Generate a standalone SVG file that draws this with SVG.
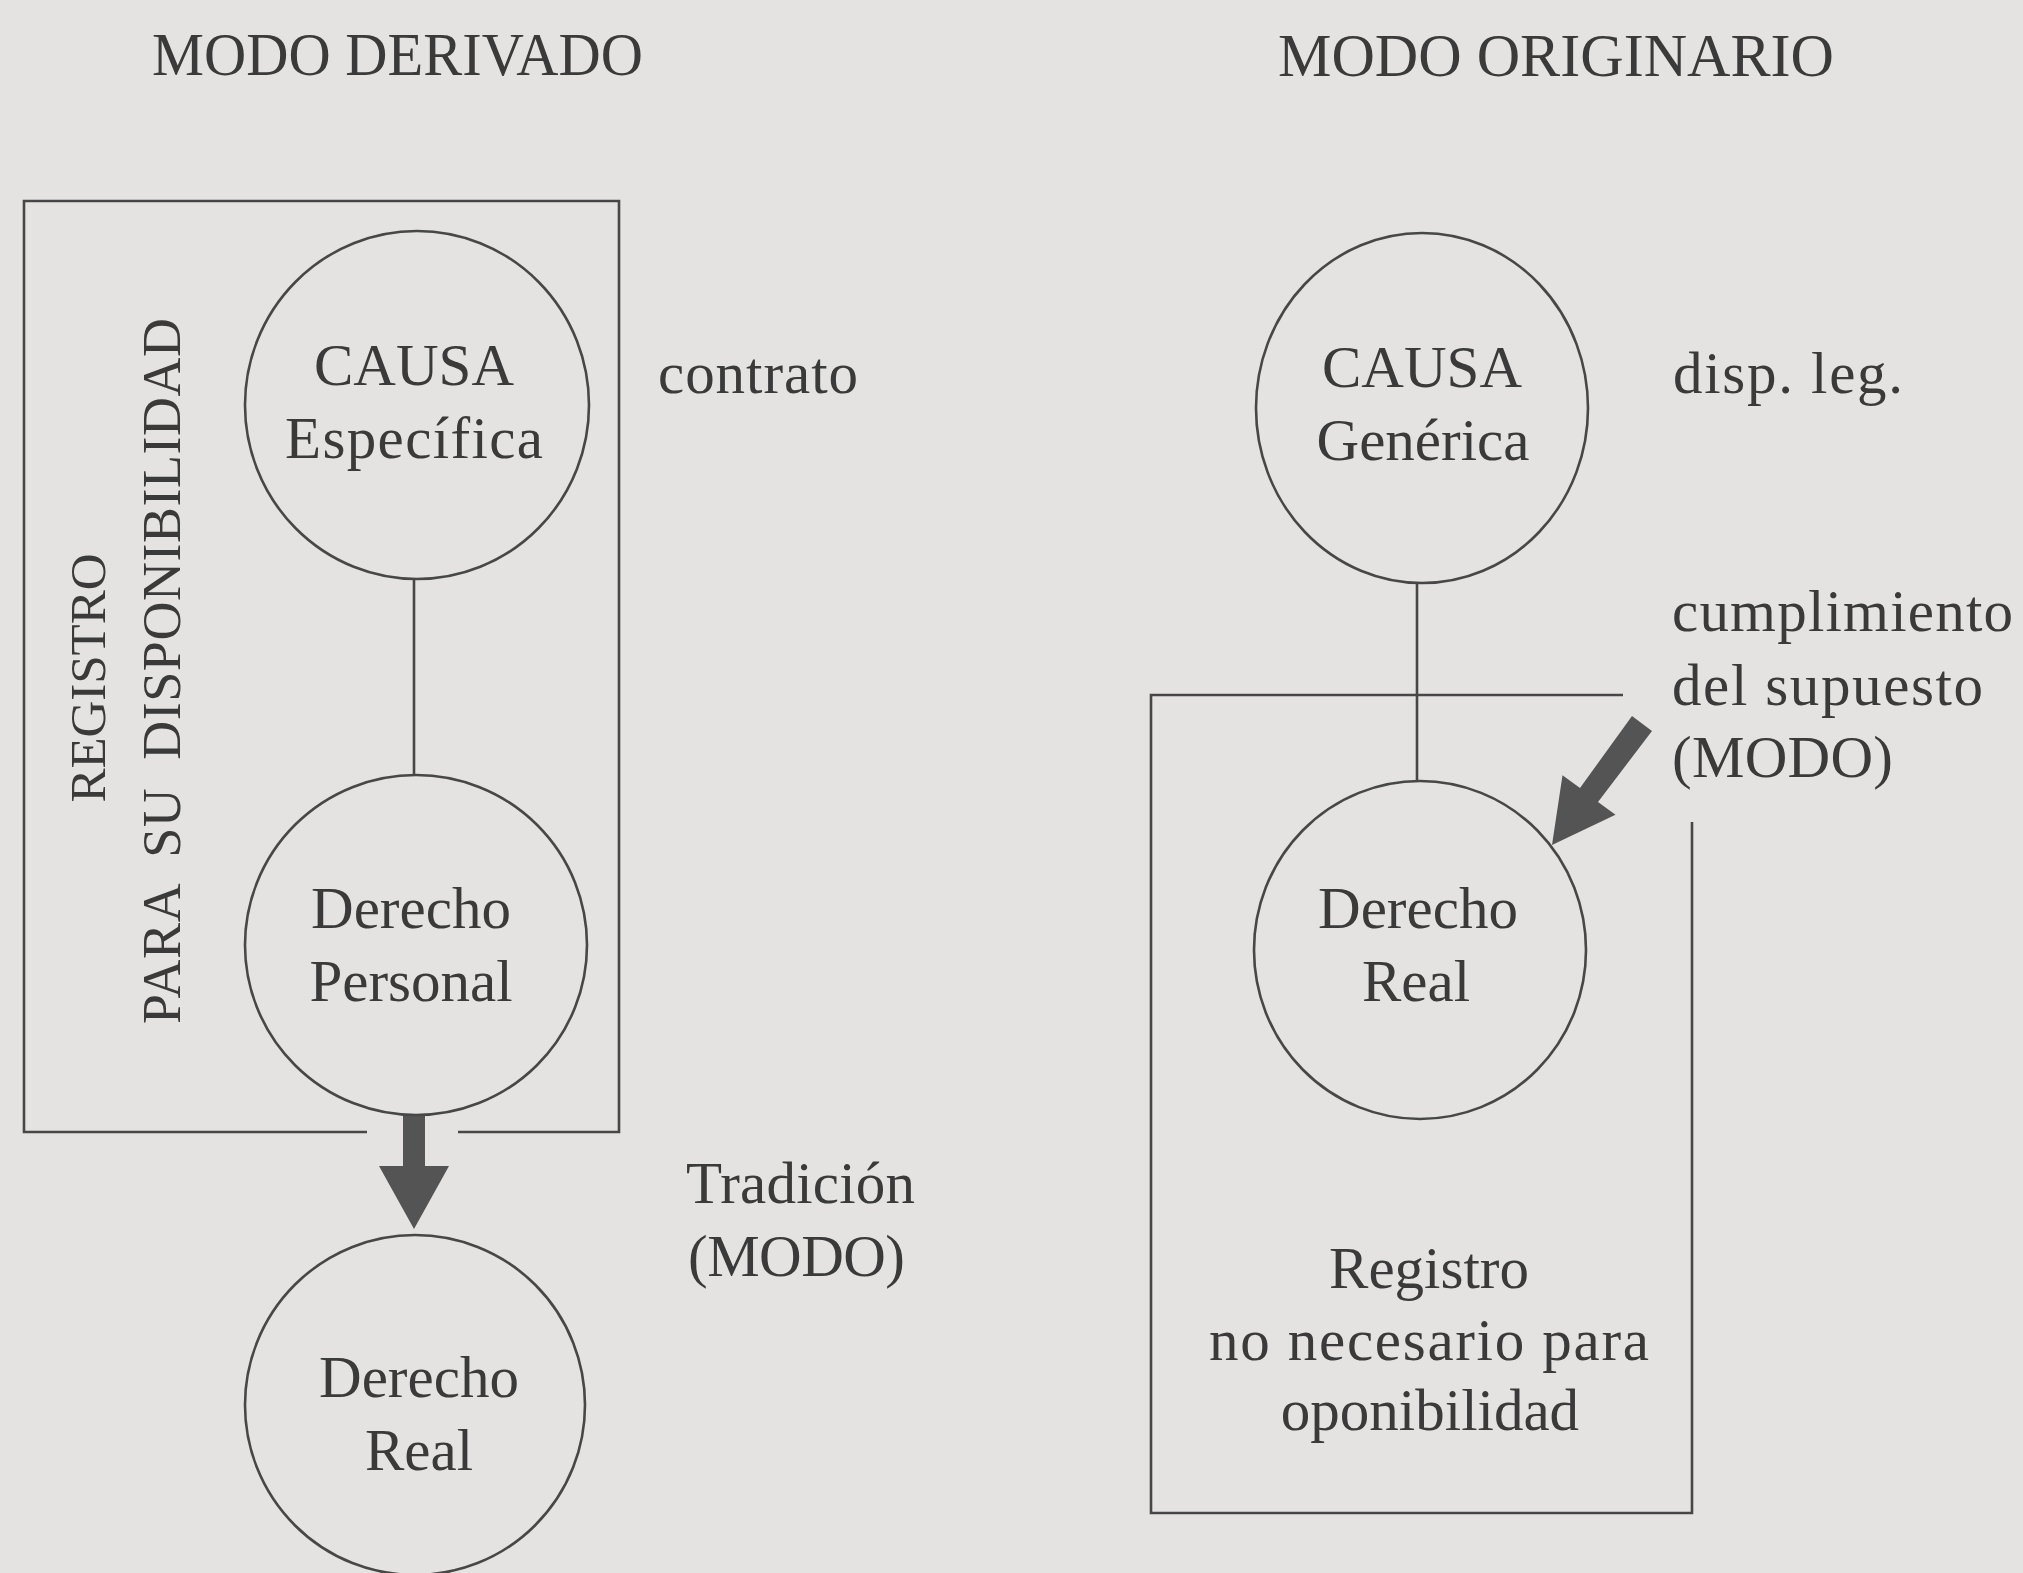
<svg xmlns="http://www.w3.org/2000/svg" width="2023" height="1573" viewBox="0 0 2023 1573">
<style>
text{font-family:"Liberation Serif","Times New Roman",serif;fill:#3a3a3a;font-size:59px}
.c{text-anchor:middle}
.h{font-size:61px}
.ln{fill:none;stroke:#474747;stroke-width:2.6}
.node{fill:none;stroke:#474747;stroke-width:2.6}
.arr{fill:#545454;stroke:none}
</style>
<rect width="2023" height="1573" fill="#e4e3e1"/>
<g id="headings">
<text class="h" x="152" y="75" textLength="491" lengthAdjust="spacingAndGlyphs">MODO DERIVADO</text>
<text class="h" x="1278" y="76" textLength="556" lengthAdjust="spacingAndGlyphs">MODO ORIGINARIO</text>
</g>
<g id="box-registro-disponibilidad">
<path class="ln" d="M367,1132 H24 V201 H619 V1132 H458"/>
<text transform="translate(105,678) rotate(-90)" class="c" style="font-size:51px" textLength="249">REGISTRO</text>
<text transform="translate(180,671) rotate(-90)" class="c" style="font-size:54px;word-spacing:14px" textLength="706">PARA SU DISPONIBILIDAD</text>
</g>
<g id="box-registro-no-necesario">
<path class="ln" d="M1623,695 H1151 V1513 H1692 V822"/>
<text class="c" x="1429" y="1288">Registro</text>
<text class="c" x="1429" y="1360" textLength="440">no necesario para</text>
<text class="c" x="1430" y="1430">oponibilidad</text>
</g>
<g id="connectors">
<line class="ln" x1="414" y1="579" x2="414" y2="775"/>
<line class="ln" x1="1417" y1="583" x2="1417" y2="781"/>
<polygon class="arr" points="403,1114 425,1114 425,1166 449,1166 414,1229 379,1166 403,1166"/>
<polygon class="arr" points="1632,716 1652,731 1598,802 1615.5,814.7 1552,845 1562.5,775.3 1580,788"/>
</g>
<g id="node-causa-especifica">
<ellipse class="node" cx="417" cy="405" rx="172" ry="174"/>
<text class="c" x="414" y="385">CAUSA</text>
<text class="c" x="414" y="458" textLength="258">Específica</text>
</g>
<g id="label-contrato"><text x="658" y="393" textLength="200">contrato</text></g>
<g id="node-derecho-personal">
<ellipse class="node" cx="416" cy="945" rx="171" ry="170"/>
<text class="c" x="411" y="928">Derecho</text>
<text class="c" x="411" y="1001">Personal</text>
</g>
<g id="label-tradicion">
<text x="686" y="1203" textLength="229">Tradición</text>
<text x="688" y="1276" textLength="217">(MODO)</text>
</g>
<g id="node-derecho-real-left">
<ellipse class="node" cx="415" cy="1405" rx="170" ry="170"/>
<text class="c" x="419" y="1397">Derecho</text>
<text class="c" x="419" y="1470">Real</text>
</g>
<g id="node-causa-generica">
<ellipse class="node" cx="1422" cy="408" rx="166" ry="175"/>
<text class="c" x="1422" y="387">CAUSA</text>
<text class="c" x="1423" y="460">Genérica</text>
</g>
<g id="label-disp-leg"><text x="1673" y="393" textLength="230">disp. leg.</text></g>
<g id="label-cumplimiento">
<text x="1672" y="631" textLength="341">cumplimiento</text>
<text x="1672" y="705" textLength="311">del supuesto</text>
<text x="1672" y="777" textLength="221">(MODO)</text>
</g>
<g id="node-derecho-real-right">
<ellipse class="node" cx="1420" cy="950" rx="166" ry="169"/>
<text class="c" x="1418" y="928">Derecho</text>
<text class="c" x="1416" y="1001">Real</text>
</g>
</svg>
